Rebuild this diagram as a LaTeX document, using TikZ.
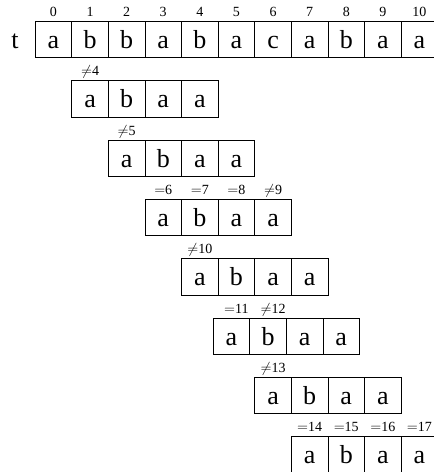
\documentclass[tikz,border=0pt]{standalone}
\usepackage{fontspec}
\setmainfont{Liberation Serif}
\usetikzlibrary{positioning}

\begin{document}
\begin{tikzpicture}[x=36.6pt, y=-59.3pt,
    cell/.style={draw, line width=0.9pt, anchor=north west, inner sep=0pt,
        minimum width=36.6pt, minimum height=36.4pt,
        text height=18pt, text depth=0pt, font=\fontsize{26}{26}\selectfont},
    idx/.style={anchor=base, inner sep=0pt, font=\fontsize{14}{14}\selectfont}]

    \clip (-34.7pt, 21pt) rectangle (399.3pt, -451pt);

    % Text t
    \foreach \c/\ch in {0/a,1/b,2/b,3/a,4/b,5/a,6/c,7/a,8/b,9/a,10/a}
        \node[cell] (t\c) at (\c, 0) {\ch};
    \node[inner sep=0pt, font=\fontsize{26}{26}\selectfont, base left=16pt of t0] (tname) {t};

    % Positions
    \foreach \c in {0,...,10}
        \node[idx] (pos\c) at ([yshift=5pt]t\c.north) {\c};

    % Pattern, one row per shift
    \foreach \r/\dx in {1/0, 2/0, 3/0, 4/0, 5/-5, 6/0, 7/0}
        \foreach \c/\ch in {0/a,1/b,2/a,3/a}
            \node[cell, xshift=\dx pt] (p\r-\c) at (\r+\c, \r) {\ch};

    % Comparisons
    \foreach \n/\r/\k/\op in {4/1/1/\neq, 5/2/2/\neq, 6/3/3/=, 7/3/4/=, 8/3/5/=,
            9/3/6/\neq, 10/4/4/\neq, 11/5/5/=, 12/5/6/\neq, 13/6/6/\neq,
            14/7/7/=, 15/7/8/=, 16/7/9/=, 17/7/10/=}
        \node[idx] (cmp\n) at ([yshift=4.5pt]t\k.center |- p\r-0.north) {$\op$\n};

\end{tikzpicture}
\end{document}
